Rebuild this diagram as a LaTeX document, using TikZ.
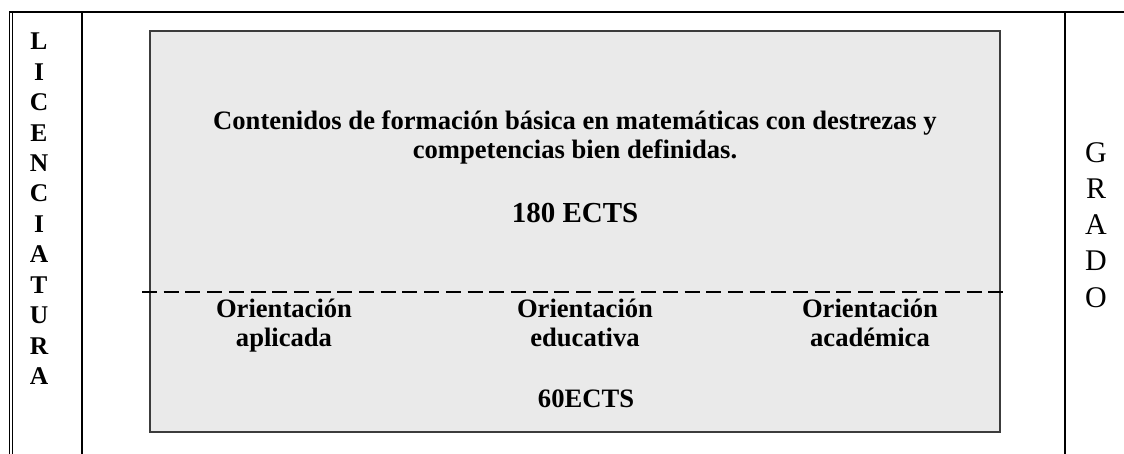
\documentclass[tikz,border=0pt]{standalone}
\usepackage{fontspec}
\setmainfont{Liberation Serif}
\definecolor{boxfill}{HTML}{EAEAEA}
\definecolor{boxline}{HTML}{3C3C3C}
\tikzset{
  frameline/.style={line width=1.4pt, black},
  topline/.style={line width=2.2pt, black},
  mainbox/.style={draw=boxline, fill=boxfill, line width=2pt, minimum width=850pt, minimum height=401pt, inner sep=0pt},
  splitline/.style={black, line width=1.5pt, dash pattern=on 15pt off 6.7pt},
  bodytext/.style={anchor=base, inner sep=0pt, font=\fontsize{26.6}{30}\selectfont\bfseries},
  bigtext/.style={anchor=base, inner sep=0pt, font=\fontsize{29}{33}\selectfont\bfseries},
  sidebold/.style={anchor=base, inner sep=0pt, font=\fontsize{25.5}{30}\selectfont\bfseries},
  sideplain/.style={anchor=base, inner sep=0pt, font=\fontsize{30}{35}\selectfont},
}
\begin{document}
\begin{tikzpicture}[x=1pt,y=-1pt]
\useasboundingbox (0,0) rectangle (1124,454);
% frame
\coordinate (tl) at (9,12);
\coordinate (tr) at (1124,12);
\coordinate (l1b) at (9.5,454);
\coordinate (l1t) at (9.5,12);
\coordinate (l2b) at (12.5,454);
\coordinate (l2t) at (12.5,12);
\coordinate (m1t) at (82,12);
\coordinate (m1b) at (82,454);
\coordinate (r1t) at (1065,12);
\coordinate (r1b) at (1065,454);
\draw[frameline, line width=1pt] (l1t) -- (l1b);
\draw[frameline, line width=1pt] (l2t) -- (l2b);
\draw[frameline] (m1t) -- (m1b);
\draw[frameline] (r1t) -- (r1b);
\draw[topline] (tl) -- (tr);
% main box
\node[mainbox] (box) at (575,231.5) {};
\coordinate (dl) at (142,292);
\coordinate (dr) at (1007,292);
\draw[splitline] (dl) -- (dr);
% texts
\node[bodytext] (t1) at (575,130) {Contenidos de formación básica en matemáticas con destrezas y};
\node[bodytext] (t2) at (575,159) {competencias bien definidas.};
\node[bigtext] (ects1) at (575,223) {180 ECTS};
\node[bodytext] (oa1) at (284,317) {Orientación};
\node[bodytext] (oa2) at (284,346) {aplicada};
\node[bodytext] (oe1) at (585,317) {Orientación};
\node[bodytext] (oe2) at (585,346) {educativa};
\node[bodytext] (oc1) at (870,317) {Orientación};
\node[bodytext] (oc2) at (870,346) {académica};
\node[bodytext] (ects2) at (586,407) {60ECTS};
% side labels
\foreach \l [count=\i from 0] in {L,I,C,E,N,C,I,A,T,U,R,A}
  \node[sidebold] (lic\i) at (39,50+\i*30.4) {\l};
\foreach \l [count=\i from 0] in {G,R,A,D,O}
  \node[sideplain] (gr\i) at (1096,163+\i*36) {\l};
\end{tikzpicture}
\end{document}
